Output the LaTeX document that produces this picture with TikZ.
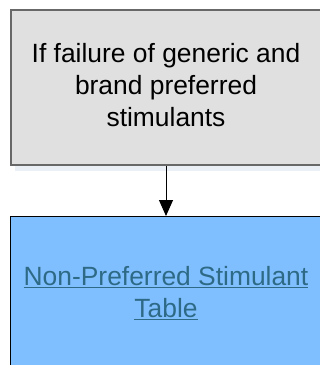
\documentclass[tikz,border=0pt]{standalone}
\usepackage{fontspec}
\setmainfont{Liberation Sans}
\usetikzlibrary{arrows.meta}
\definecolor{boxgray}{HTML}{E0E0E0}
\definecolor{boxedge}{HTML}{686868}
\definecolor{shadowc}{HTML}{EAF0F5}
\definecolor{boxblue}{HTML}{80BFFF}
\definecolor{linkc}{HTML}{2E6A86}
\tikzset{
  graybox/.style={draw=boxedge, line width=2pt, fill=boxgray, rectangle, inner sep=0pt,
    minimum width=400pt, minimum height=155pt, anchor=north west},
  bluebox/.style={draw=black, line width=1.2pt, fill=boxblue, rectangle, inner sep=0pt,
    minimum width=400pt, minimum height=170pt, anchor=north west},
  plaintext/.style={align=center, inner sep=0pt,
    font=\fontsize{26.4}{32}\selectfont},
  linktext/.style={plaintext, text=linkc},
  conn/.style={draw=black, line width=1pt, -{Triangle[length=16pt,width=14pt]}}
}
\begin{document}
\begin{tikzpicture}[x=1pt,y=-1pt]
\useasboundingbox (0,0) rectangle (320,365);
\begin{scope}
\clip (0,0) rectangle (320,365);
\fill[shadowc] (15,14) rectangle (420,171);
\node[graybox] (cond) at (10,9) {};
\node[bluebox] (nonpref) at (10,216) {};
\end{scope}
\node[plaintext] (condtext) at (166,85.5) {If failure of generic and\\brand preferred\\stimulants};
\node[linktext] (nonpreftext) at (166,293) {\underline{Non-Preferred Stimulant}\\\underline{Table}};
\draw[conn] (condtext |- cond.south) -- (condtext |- nonpref.north);
\end{tikzpicture}
\end{document}
